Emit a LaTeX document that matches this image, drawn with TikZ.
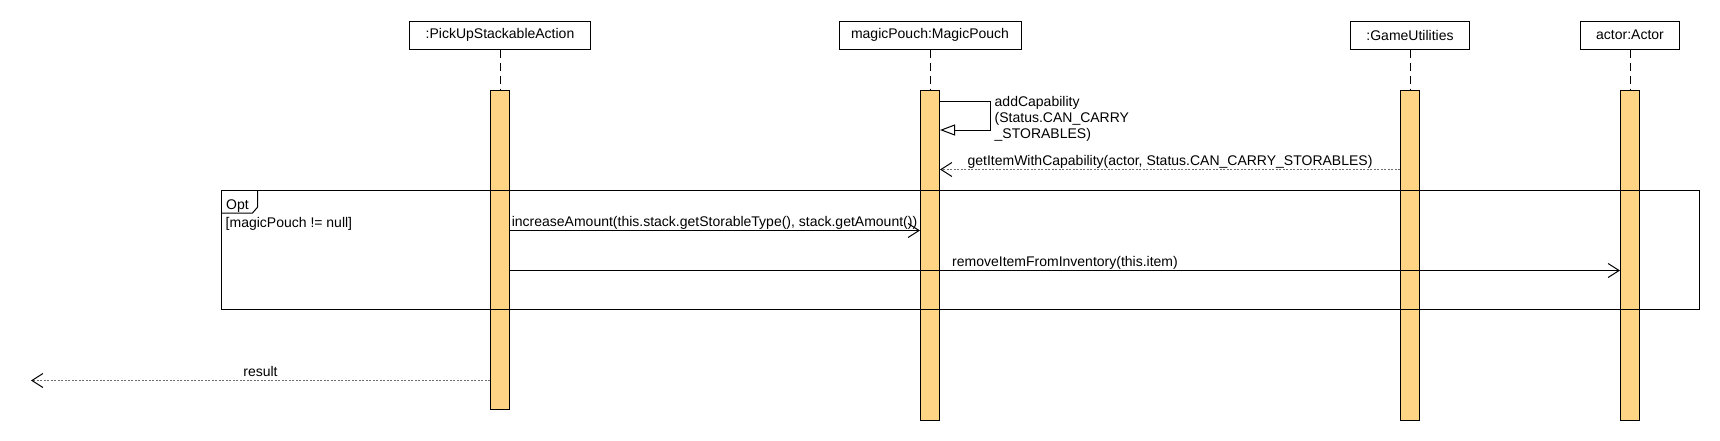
\documentclass[tikz,border=0pt]{standalone}
\usepackage{fontspec}
\setmainfont{Liberation Sans}
\usetikzlibrary{arrows.meta,calc}
\definecolor{barfill}{HTML}{FFD485}
\definecolor{dotgray}{HTML}{707070}
\begin{document}
\begin{tikzpicture}[x=1pt,y=-1pt,
  every node/.style={font=\fontsize{14}{16}\selectfont, inner sep=0pt},
  objbox/.style={draw, line width=1pt, minimum height=28pt, inner sep=0pt, fill=white},
  actbar/.style={draw, line width=1pt, fill=barfill, minimum width=19pt, inner sep=0pt, anchor=north},
  lifeline/.style={dash pattern=on 8pt off 5pt, line width=1pt},
  msg/.style={line width=1pt, -{Straight Barb[length=11pt,width=14pt]}},
  reply/.style={line width=1pt, draw=dotgray, dash pattern=on 2pt off 1.5pt, -{Straight Barb[length=11pt,width=14pt,color=black]}},
  selfmsg/.style={line width=1pt, -{Triangle[open,length=15pt,width=11pt]}},
  lbl/.style={anchor=base}
]
\useasboundingbox (0,0) rectangle (1720,440);
% object boxes
\node[objbox, minimum width=181pt] (pbox) at (500,35) {:PickUpStackableAction};
\node[objbox, minimum width=182pt] (mbox) at (930,35) {magicPouch:MagicPouch};
\node[objbox, minimum width=119pt] (gbox) at (1410,35) {:GameUtilities};
\node[objbox, minimum width=99pt] (abox) at (1630,35) {actor:Actor};
% activation bars
\node[actbar, minimum height=319pt] (pbar) at (500,90) {};
\node[actbar, minimum height=330pt] (mbar) at (930,90) {};
\node[actbar, minimum height=330pt] (gbar) at (1410,90) {};
\node[actbar, minimum height=330pt] (abar) at (1630,90) {};
% lifelines
\draw[lifeline] (pbox.south) -- (pbar.north);
\draw[lifeline] (mbox.south) -- (mbar.north);
\draw[lifeline] (gbox.south) -- (gbar.north);
\draw[lifeline] (abox.south) -- (abar.north);
% message levels
\coordinate (y1) at (0,101);
\coordinate (y2) at (0,130);
\coordinate (selfA) at (990.5,101);
\coordinate (selfB) at (990.5,130);
\coordinate (y3) at (0,169.5);
\coordinate (y4) at (0,230.5);
\coordinate (y5) at (0,270.5);
\coordinate (y6) at (0,380.5);
\coordinate (resEnd) at (31,380.5);
% self call
\draw[selfmsg] (mbar.east |- y1) -- (selfA) -- (selfB) -- (mbar.east |- y2);
\node[anchor=north west, align=left] (selflbl) at (994.5,96.5) {addCapability\\(Status.CAN\_CARRY\\\_STORABLES)};
% getItemWithCapability
\draw[reply] (gbar.west |- y3) -- (mbar.east |- y3);
\node[lbl] (l3) at (1170,165.5) {getItemWithCapability(actor, Status.CAN\_CARRY\_STORABLES)};
% opt frame
\node[draw, line width=1pt, anchor=north west, minimum width=1478pt, minimum height=119pt] (opt) at (221,190) {};
\coordinate (tabA) at (221,213);
\coordinate (tabB) at (252.5,213);
\coordinate (tabC) at (257.7,207);
\coordinate (tabD) at (257.7,190);
\draw[line width=1pt] (tabA) -- (tabB) -- (tabC) -- (tabD);
\node[anchor=base west] (optlbl) at (226,209) {Opt};
\node[anchor=base west] (guard) at (225.5,227.5) {[magicPouch != null]};
% increaseAmount
\draw[msg] (pbar.east |- y4) -- (mbar.west |- y4);
\node[lbl] (l4) at (714.5,226.5) {increaseAmount(this.stack.getStorableType(), stack.getAmount())};
% removeItemFromInventory
\draw[msg] (pbar.east |- y5) -- (abar.west |- y5);
\node[lbl] (l5) at (1065,266.5) {removeItemFromInventory(this.item)};
% result
\draw[reply] (pbar.west |- y6) -- (resEnd);
\node[lbl] (l6) at (260.5,376) {result};
\end{tikzpicture}
\end{document}
